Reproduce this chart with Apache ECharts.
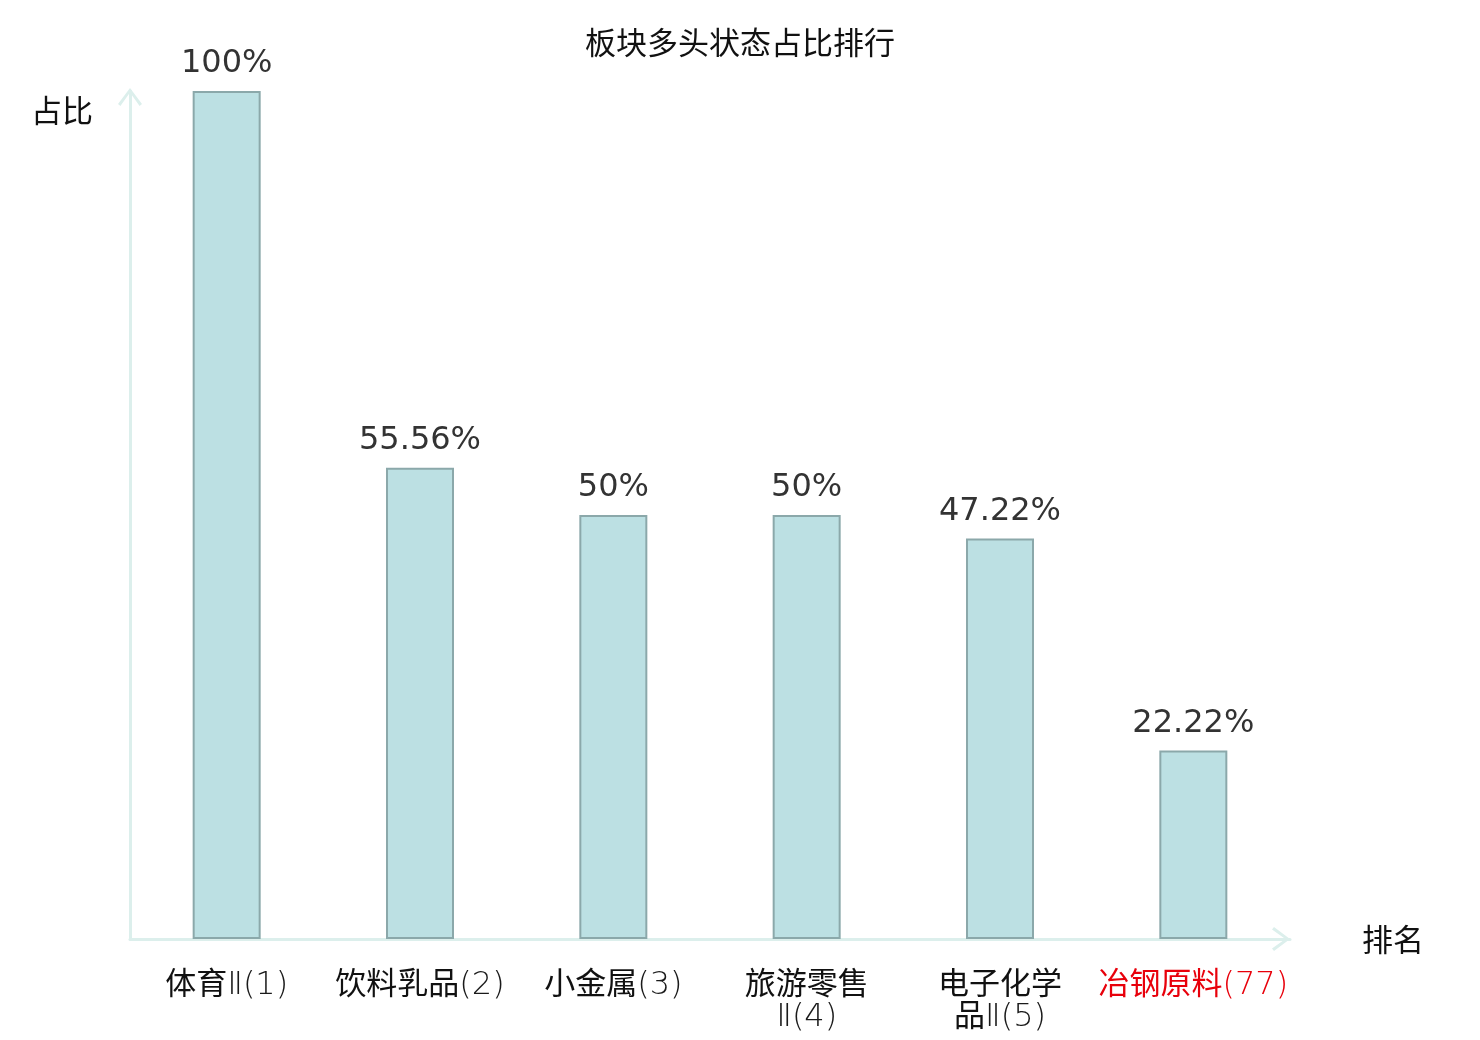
<!DOCTYPE html>
<html>
<head>
<meta charset="utf-8">
<title>板块多头状态占比排行</title>
<script src="https://cdn.jsdelivr.net/npm/echarts@6/dist/echarts.min.js"></script>
<style>
  html, body { margin: 0; padding: 0; background: #fff; }
  #chart { width: 1480px; height: 1040px; }
</style>
</head>
<body>
<div id="chart"></div>
<script>
// Sector names with their rank, as shown under each bar
const sectors = ['体育Ⅱ(1)', '饮料乳品(2)', '小金属(3)', '旅游零售\nⅡ(4)', '电子化学\n品Ⅱ(5)', '冶钢原料(77)'];
// Share of stocks in bullish state, percent
const shares = [100, 55.56, 50, 50, 47.22, 22.22];
// Index of the highlighted (last-ranked) sector
const highlightIndex = 5;

// Open chevron arrow head, pointing up (rotated by ECharts along the axis)
const chevron = 'path://M12,0 L24,16 L21.6,18 L12,4.6 L2.4,18 L0,16 Z';
const axisColor = '#dcefec';
const cjkFont = "'Noto Sans CJK SC', 'DejaVu Sans', sans-serif";
const thinFont = "'DejaVu Sans', 'Noto Sans CJK SC', sans-serif";

// Split a label into CJK runs and other runs so each gets its own style
function richLabel(value, index) {
  const red = index === highlightIndex ? 'r' : '';
  return value.replace(/[\u4e00-\u9fff]+|[^\u4e00-\u9fff\n]+/g, function (run) {
    const isCjk = /[\u4e00-\u9fff]/.test(run);
    return '{' + (isCjk ? 'c' : 'a') + red + '|' + run + '}';
  });
}

const chart = echarts.init(document.getElementById('chart'));

chart.setOption({
  animation: false,
  backgroundColor: '#ffffff',
  title: {
    text: '板块多头状态占比排行',
    left: 'center',
    top: 22,
    textStyle: {
      fontFamily: cjkFont,
      fontSize: 31,
      fontWeight: 'normal',
      color: '#111'
    }
  },
  grid: {
    left: 130,
    right: 190,
    top: 91,
    bottom: 101
  },
  xAxis: {
    type: 'category',
    data: sectors,
    name: '排名',
    nameLocation: 'end',
    nameGap: 72,
    nameTextStyle: {
      fontFamily: cjkFont,
      fontSize: 31,
      color: '#111'
    },
    axisLine: {
      lineStyle: { color: axisColor, width: 3 },
      symbol: ['none', chevron],
      symbolSize: [24, 18],
      symbolOffset: [0, -9]
    },
    axisTick: { show: false },
    axisLabel: {
      interval: 0,
      margin: 27,
      lineHeight: 32,
      formatter: richLabel,
      rich: {
        c: { fontFamily: cjkFont, fontSize: 31, lineHeight: 32, color: '#111' },
        a: { fontFamily: thinFont, fontSize: 32, fontWeight: 200, lineHeight: 32, color: '#1a1a1a', padding: [8, 0, 0, 0] },
        cr: { fontFamily: cjkFont, fontSize: 31, lineHeight: 32, color: '#e8000b' },
        ar: { fontFamily: thinFont, fontSize: 32, fontWeight: 200, lineHeight: 32, color: '#e8000b', padding: [8, 0, 0, 0] }
      }
    }
  },
  yAxis: {
    type: 'value',
    min: 0,
    max: 100,
    name: '占比',
    nameLocation: 'end',
    nameGap: -19,
    nameTextStyle: {
      fontFamily: cjkFont,
      fontSize: 31,
      color: '#111',
      align: 'right',
      verticalAlign: 'middle',
      padding: [0, 37, 0, 0]
    },
    axisLine: {
      show: true,
      lineStyle: { color: axisColor, width: 3 },
      symbol: ['none', chevron],
      symbolSize: [24, 18],
      symbolOffset: [0, -6]
    },
    axisTick: { show: false },
    axisLabel: { show: false },
    splitLine: { show: false }
  },
  series: [
    {
      type: 'bar',
      data: shares,
      barWidth: 68,
      itemStyle: {
        color: '#bce0e3',
        borderColor: '#8ba8aa',
        borderWidth: 2
      },
      label: {
        show: true,
        position: 'top',
        distance: 11,
        formatter: '{c}%',
        fontFamily: "'DejaVu Sans', sans-serif",
        fontSize: 32,
        color: '#333'
      }
    }
  ]
});

window.addEventListener('resize', function () {
  chart.resize();
});
</script>
</body>
</html>
